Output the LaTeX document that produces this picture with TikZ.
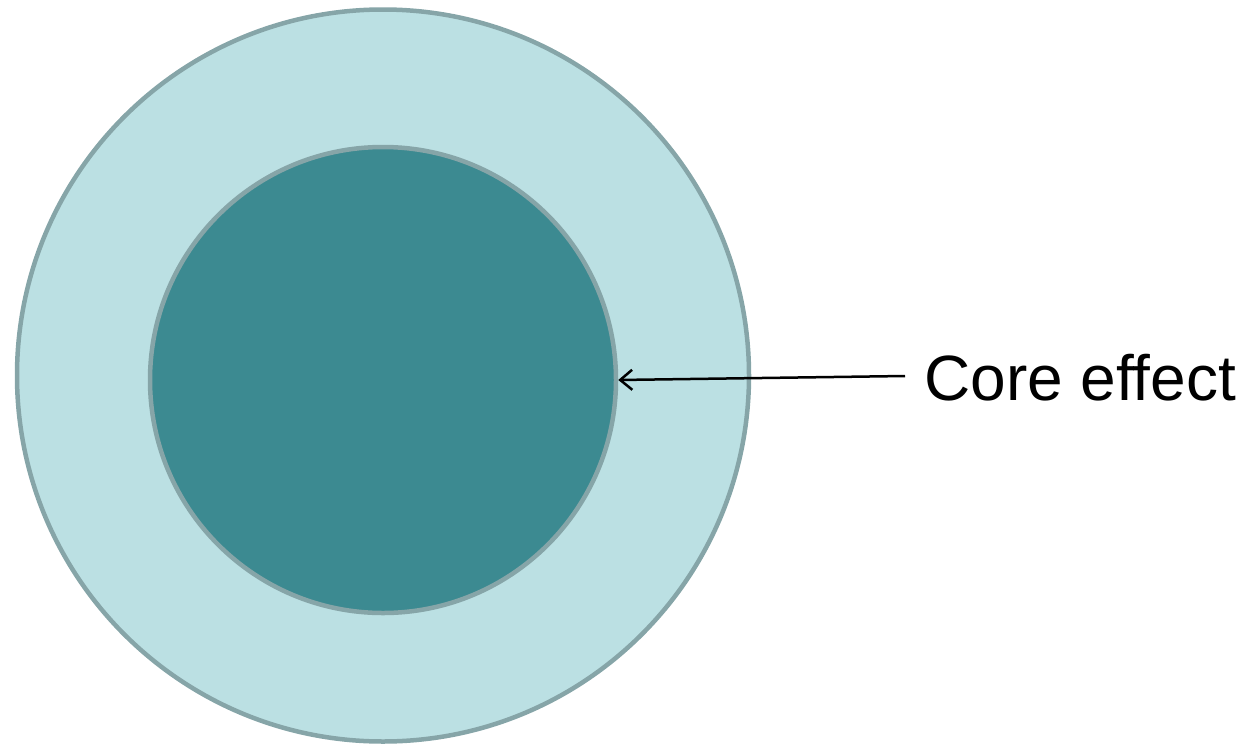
\documentclass[tikz,border=0pt]{standalone}
\usepackage{fontspec}
\setmainfont{Liberation Sans}
\usetikzlibrary{arrows.meta}
\definecolor{ringfill}{HTML}{BBE0E3}
\definecolor{corefill}{HTML}{3C8A91}
\definecolor{rimline}{HTML}{86A5A8}
\begin{document}
\begin{tikzpicture}[x=1pt,y=-1pt,
  disc/.style={circle,draw=rimline,line width=4.5pt,inner sep=0pt},
  label/.style={font=\fontsize{64}{77}\selectfont,inner sep=0pt,anchor=base west}]
\useasboundingbox (0,0) rectangle (1256,745);
\node[disc,fill=ringfill,minimum size=732pt] (outer) at (383,375.5) {};
\node[disc,fill=corefill,minimum size=466pt] (core) at (383,380) {};
\node[label] (txt) at (924,400) {Core effect};
\coordinate (tail) at (905,376);
\draw[line width=2.5pt,-{Straight Barb[length=12pt,width=20pt,line width=2.5pt]}] (tail) -- (core.east);
\end{tikzpicture}
\end{document}
